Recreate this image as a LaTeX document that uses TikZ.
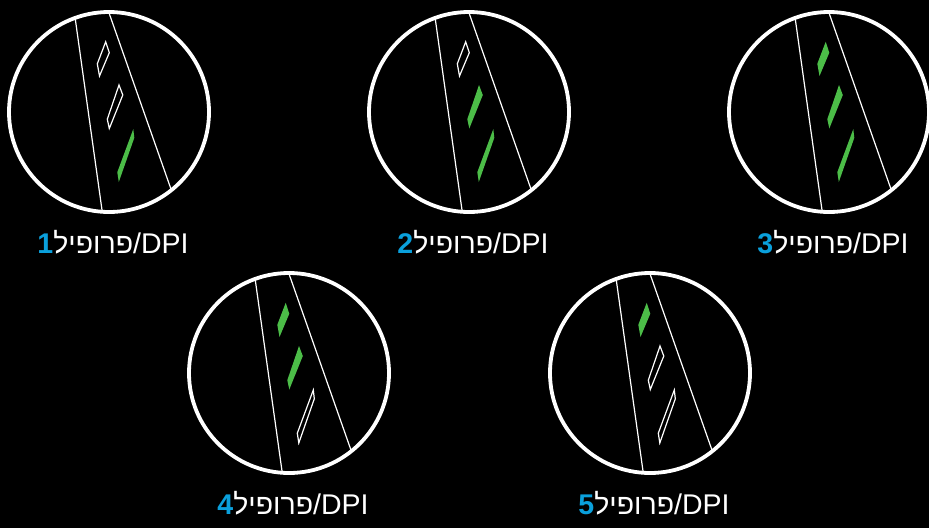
\documentclass[tikz,border=0pt]{standalone}
\usepackage{fontspec}
\setmainfont{Liberation Sans}
\newfontfamily\hebfont[Script=Hebrew]{Liberation Sans}
\TeXXeTstate=1
\definecolor{ledgreen}{RGB}{76,189,72}
\definecolor{numblue}{RGB}{10,160,220}
\tikzset{
  ring/.style={circle, draw=white, line width=3.8pt, minimum size=200pt, inner sep=0pt},
  rail/.style={draw=white, line width=1.2pt},
  ledon/.style={fill=ledgreen, draw=none},
  ledoff/.style={draw=white, line width=1.2pt, line join=miter},
  lbl/.style={text=white, anchor=base, inner sep=0pt, font=\fontsize{28.5}{33}\selectfont}
}
\newcommand\profileview[7]{%
  \begin{scope}[shift={(#2,#3)}]
    \node[ring] (#1) at (0,0) {};
    \begin{scope}
      \clip (0,0) circle (100pt);
      \draw[rail] (-36.7,-114.3) -- (-4.3,117.3);
      \draw[rail] (-7.4,-120.2) -- (69.4,98.2);
    \end{scope}
    \path[#4] (-3.3,-70.2) -- (0.3,-59.3) -- (-9.5,-36) -- (-11.7,-48.2) -- cycle;
    \path[#5] (10,-27) -- (13.8,-17) -- (0.3,16.5) -- (-1.7,7.2) -- cycle;
    \path[#6] (24.3,17) -- (25.3,25.8) -- (9.8,70) -- (8.3,60.2) -- cycle;
    \node[lbl] (#1label) at (4,141.5) {{\color{numblue}\bfseries #7}{\hebfont\beginR פרופיל\endR}/DPI};
  \end{scope}}
\begin{document}
\begin{tikzpicture}[x=1pt,y=-1pt]
  \fill[black] (0,0) rectangle (929,528);
  \useasboundingbox (0,0) rectangle (929,528);
  \profileview{p1}{109}{112}{ledoff}{ledoff}{ledon}{1}
  \profileview{p2}{469}{112}{ledoff}{ledon}{ledon}{2}
  \profileview{p3}{829}{112}{ledon}{ledon}{ledon}{3}
  \profileview{p4}{289}{373}{ledon}{ledon}{ledoff}{4}
  \profileview{p5}{650}{373}{ledon}{ledoff}{ledoff}{5}
\end{tikzpicture}
\end{document}
